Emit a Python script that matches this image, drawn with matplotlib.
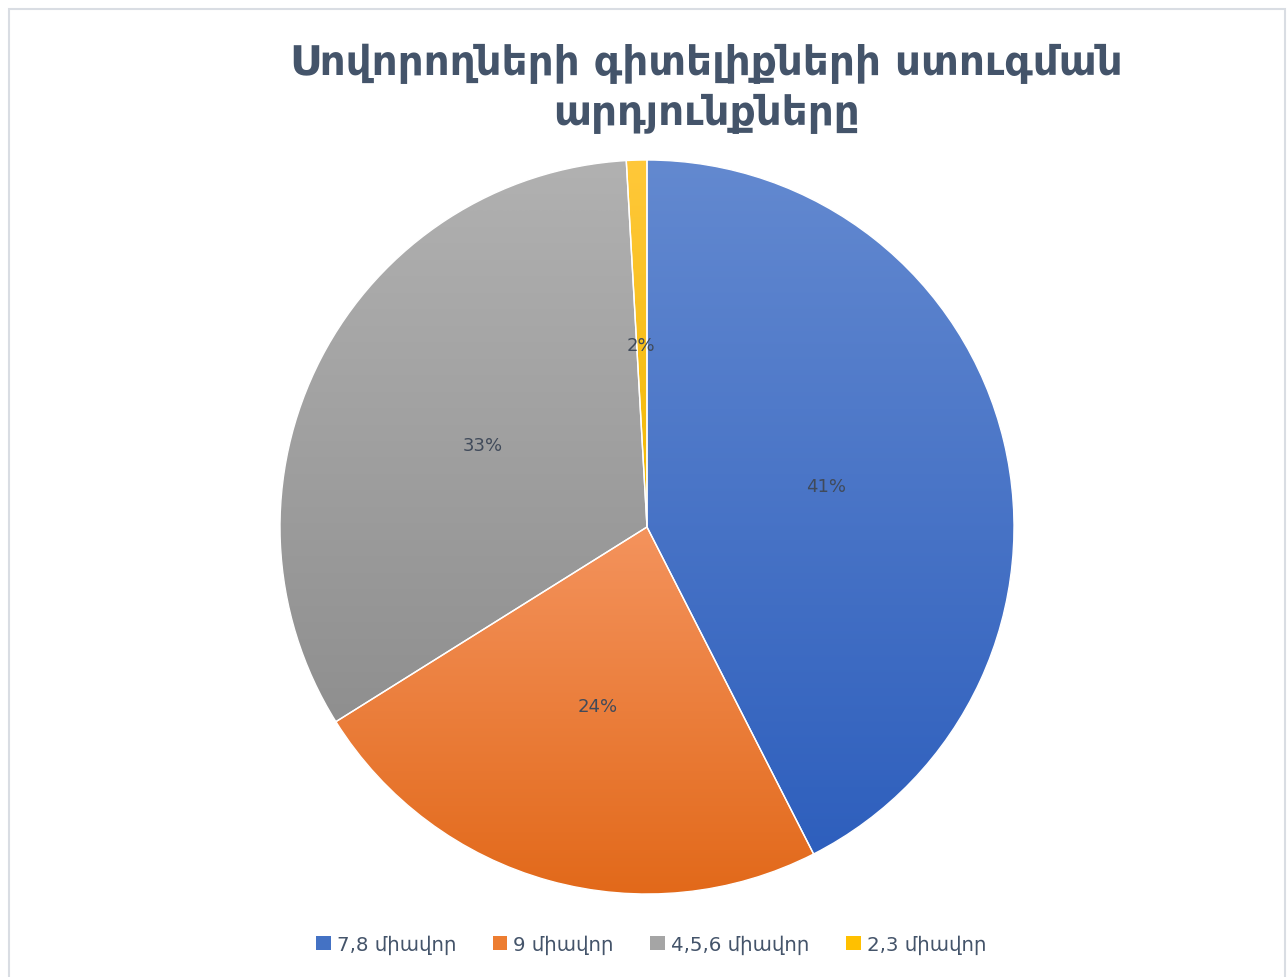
import matplotlib
matplotlib.use('Agg')
import matplotlib.pyplot as plt
import numpy as np
from matplotlib.patches import Patch, Rectangle
from matplotlib.colors import LinearSegmentedColormap

# data
categories = ['7,8 միավոր', '9 միավոր', '4,5,6 միավոր', '2,3 միավոր']
shares = [42.5, 23.6, 33.0, 0.9]
pct_labels = ['41%', '24%', '33%', '2%']
title = 'Սովորողների գիտելիքների ստուգման\nարդյունքները'

# gradient colours (top, bottom) per slice
grad = [('#6389d0', '#2e5fbd'),
        ('#f4935d', '#e2691a'),
        ('#b1b1b1', '#8f8f8f'),
        ('#ffc83a', '#f2b800')]
legend_cols = ['#4472c4', '#ed7d31', '#a5a5a5', '#ffc000']

fig = plt.figure(figsize=(12.87, 9.78), dpi=100)
ax = fig.add_axes([(647 - 367) / 1287, (978 - 895) / 978, 734 / 1287, 734 / 978])

wedges, _ = ax.pie(shares, startangle=90, counterclock=False, radius=1,
                   wedgeprops=dict(edgecolor='white', linewidth=1.0))
ax.set_aspect('equal')

# gradient fill per slice, clipped to the wedge
for w, (c_top, c_bot) in zip(wedges, grad):
    w.set_facecolor('none')
    bb = w.get_path().get_extents(w.get_patch_transform())
    cmap = LinearSegmentedColormap.from_list('g', [c_bot, c_top])
    g = np.linspace(0, 1, 256).reshape(-1, 1)
    im = ax.imshow(g, cmap=cmap, origin='lower', aspect='auto',
                   extent=[bb.x0, bb.x1, bb.y0, bb.y1], zorder=0.5)
    im.set_clip_path(w)
ax.set_xlim(-1, 1)
ax.set_ylim(-1, 1)
ax.axis('off')

# percentage labels (pixel positions from the reference)
label_pos = [(826, 487), (598, 707), (483, 446), (641, 346)]
for txt, (px, py) in zip(pct_labels, label_pos):
    fig.text(px / 1287, 1 - py / 978, txt, ha='center', va='center',
             fontsize=13, color='#404a5a')

fig.text(706 / 1287, 1 - 89 / 978, title, ha='center', va='center',
         fontsize=29.2, fontweight='bold', color='#44546a', linespacing=1.3)

handles = [Patch(facecolor=c, edgecolor='none') for c in legend_cols]
fig.legend(handles, categories, loc='center', bbox_to_anchor=(651 / 1287, 1 - 945 / 978),
           ncol=4, frameon=False, fontsize=14.2, handlelength=0.75, handleheight=0.75,
           handletextpad=0.3, columnspacing=1.85, labelcolor='#44546a')

# chart border (bottom edge falls outside the picture)
fig.patches.append(Rectangle((8.5 / 1287, -0.02), (1285 - 8.5) / 1287, 1.02 - 9.5 / 978,
                             transform=fig.transFigure, fill=False,
                             edgecolor='#d9dde3', linewidth=1.5))

fig.savefig('out.png', dpi=100)
